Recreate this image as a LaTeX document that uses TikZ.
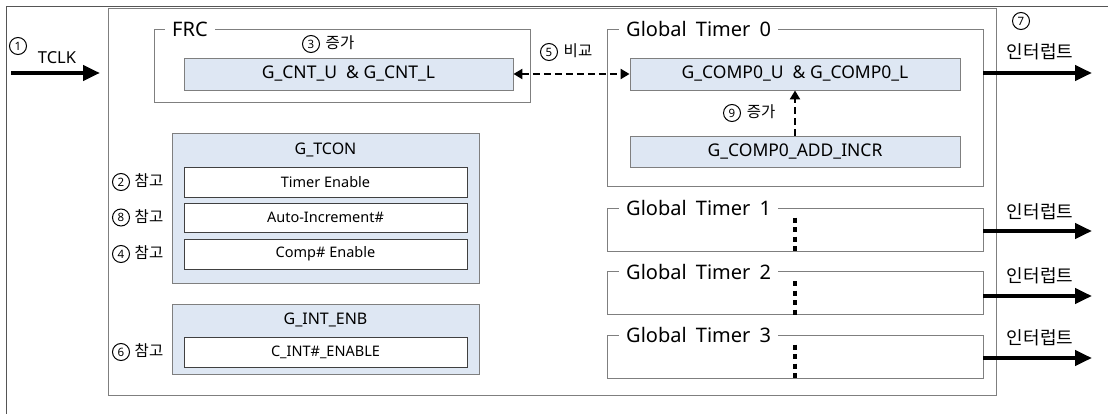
\documentclass[tikz,border=0pt]{standalone}
\usepackage{fontspec}
\setmainfont{Noto Sans}
\newfontfamily\kr{Noto Sans CJK KR}
\usetikzlibrary{arrows.meta}
\definecolor{boxblue}{HTML}{DEE7F3}
\definecolor{edgegray}{HTML}{7F7F7F}
\definecolor{inneredge}{HTML}{404040}
\definecolor{framegray}{HTML}{555555}
\begin{document}
\begin{tikzpicture}[x=1pt,y=-1pt,
  reg/.style={draw=edgegray, fill=boxblue, line width=0.9pt, inner sep=0pt, font=\fontsize{17.5}{17.5}\selectfont},
  bitbox/.style={draw=inneredge, fill=white, line width=0.8pt, inner sep=0pt, font=\fontsize{14.5}{15}\selectfont},
  grp/.style={draw=edgegray, line width=0.9pt, inner sep=0pt},
  glabel/.style={fill=white, anchor=west, inner xsep=7pt, inner ysep=1pt, font=\fontsize{20}{20}\selectfont},
  cnum/.style={circle, draw, line width=1pt, minimum size=17pt, inner sep=0pt, font=\bfseries\fontsize{11.5}{11.5}\selectfont},
  note/.style={inner sep=0pt, font=\kr\fontsize{15.5}{15.5}\selectfont},
  bignote/.style={inner sep=0pt, font=\kr\fontsize{18}{18}\selectfont},
  bigarrow/.style={line width=4.5pt, -{Triangle[length=17pt,width=15pt]}},
  dasharrow/.style={line width=2.8pt, dash pattern=on 7pt off 4pt}
]
\useasboundingbox (0,0) rectangle (1108,414);
\fill[white] (0,0) rectangle (1108,414);

% outer frame
\coordinate (ftr) at (1108,7);
\coordinate (ftl) at (6,7);
\coordinate (fbl) at (6,414);
\draw[framegray, line width=1pt] (ftr) -- (ftl) -- (fbl);

% main block
\node[grp, minimum width=888pt, minimum height=387pt] (main) at (552,201.5) {};

% TCLK
\coordinate (tin) at (11,73);
\coordinate (tout) at (100,73);
\draw[bigarrow] (tin) -- (tout);
\node[cnum] (n1) at (18,46) {1};
\node[inner sep=0pt, font=\fontsize{16.5}{16.5}\selectfont] (tclk) at (57,58) {TCLK};

% FRC
\node[grp, minimum width=376pt, minimum height=73pt] (frc) at (342,65.5) {};
\node[glabel] (frcl) at (165,29) {FRC};
\node[reg, minimum width=329pt, minimum height=32pt] (cnt) at (348.5,74) {G\_CNT\_U\ \ \& G\_CNT\_L};
\node[cnum] (n3) at (311,44) {3};
\node[note] (t3) at (340,43) {증가};

% Global Timer 0
\node[grp, minimum width=376pt, minimum height=157pt] (gt0) at (795,107.5) {};
\node[glabel] (gt0l) at (619,29) {Global\hspace{4pt} Timer\hspace{4pt} 0};
\node[reg, minimum width=330pt, minimum height=32pt] (cmp) at (795,74) {G\_COMP0\_U\ \ \& G\_COMP0\_L};
\node[reg, minimum width=330pt, minimum height=31pt] (incr) at (795,151.5) {G\_COMP0\_ADD\_INCR};
\draw[dasharrow, -{Triangle[length=9pt,width=10pt]}] (incr.north) -- (cmp.south);
\node[cnum] (n9) at (732,113) {9};
\node[note] (t9) at (761,112) {증가};

% compare
\draw[dasharrow, {Triangle[length=9pt,width=10pt]}-{Triangle[length=9pt,width=10pt]}] (cnt.east) -- (cmp.west);
\node[cnum] (n5) at (549,52) {5};
\node[note] (t5) at (578,51) {비교};

% interrupt 0
\coordinate (i0) at (1092,73);
\draw[bigarrow] (gt0.east |- i0) -- (i0);
\node[cnum] (n7) at (1021,21) {7};
\node[bignote] (int0) at (1040,52) {인터럽트};

% G_TCON
\node[reg, minimum width=307pt, minimum height=150pt] (tcon) at (325.5,208) {};
\node[inner sep=0pt, font=\fontsize{16}{16}\selectfont] (tconl) at (325.5,150) {G\_TCON};
\node[bitbox, minimum width=283pt, minimum height=30pt] (te) at (325.5,182) {Timer Enable};
\node[bitbox, minimum width=283pt, minimum height=29pt] (ai) at (325.5,217.5) {Auto-Increment\#};
\node[bitbox, minimum width=283pt, minimum height=30pt] (ce) at (325.5,254) {Comp\# Enable};
\node[cnum] (n2) at (121,182) {2};
\node[note] (t2) at (149,181) {참고};
\node[cnum] (n8) at (121,217.5) {8};
\node[note] (t8) at (149,216.5) {참고};
\node[cnum] (n4) at (121,254) {4};
\node[note] (t4) at (149,253) {참고};

% G_INT_ENB
\node[reg, minimum width=307pt, minimum height=70pt] (ienb) at (325.5,339) {};
\node[inner sep=0pt, font=\fontsize{16}{16}\selectfont] (ienbl) at (325.5,320) {G\_INT\_ENB};
\node[bitbox, minimum width=283pt, minimum height=30pt] (cie) at (325.5,352) {C\_INT\#\_ENABLE};
\node[cnum] (n6) at (121,352) {6};
\node[note] (t6) at (149,351) {참고};

% Global Timers 1..3
\foreach \k/\cy/\ly/\ay/\ty in {1/229.5/208/231/212, 2/293/272/296/276, 3/356.5/335/358/338}{
  \node[grp, minimum width=376pt, minimum height=43pt] (gt\k) at (795,\cy) {};
  \node[glabel] (gt\k l) at (619,\ly) {Global\hspace{4pt} Timer\hspace{4pt} \k};
  \draw[line width=4pt, dash pattern=on 5pt off 4.5pt] ([yshift=-10pt]gt\k.north) -- (gt\k.south);
  \coordinate (i\k) at (1092,\ay);
  \draw[bigarrow] (gt\k.east |- i\k) -- (i\k);
  \node[bignote] (int\k) at (1040,\ty) {인터럽트};
}
\end{tikzpicture}
\end{document}
